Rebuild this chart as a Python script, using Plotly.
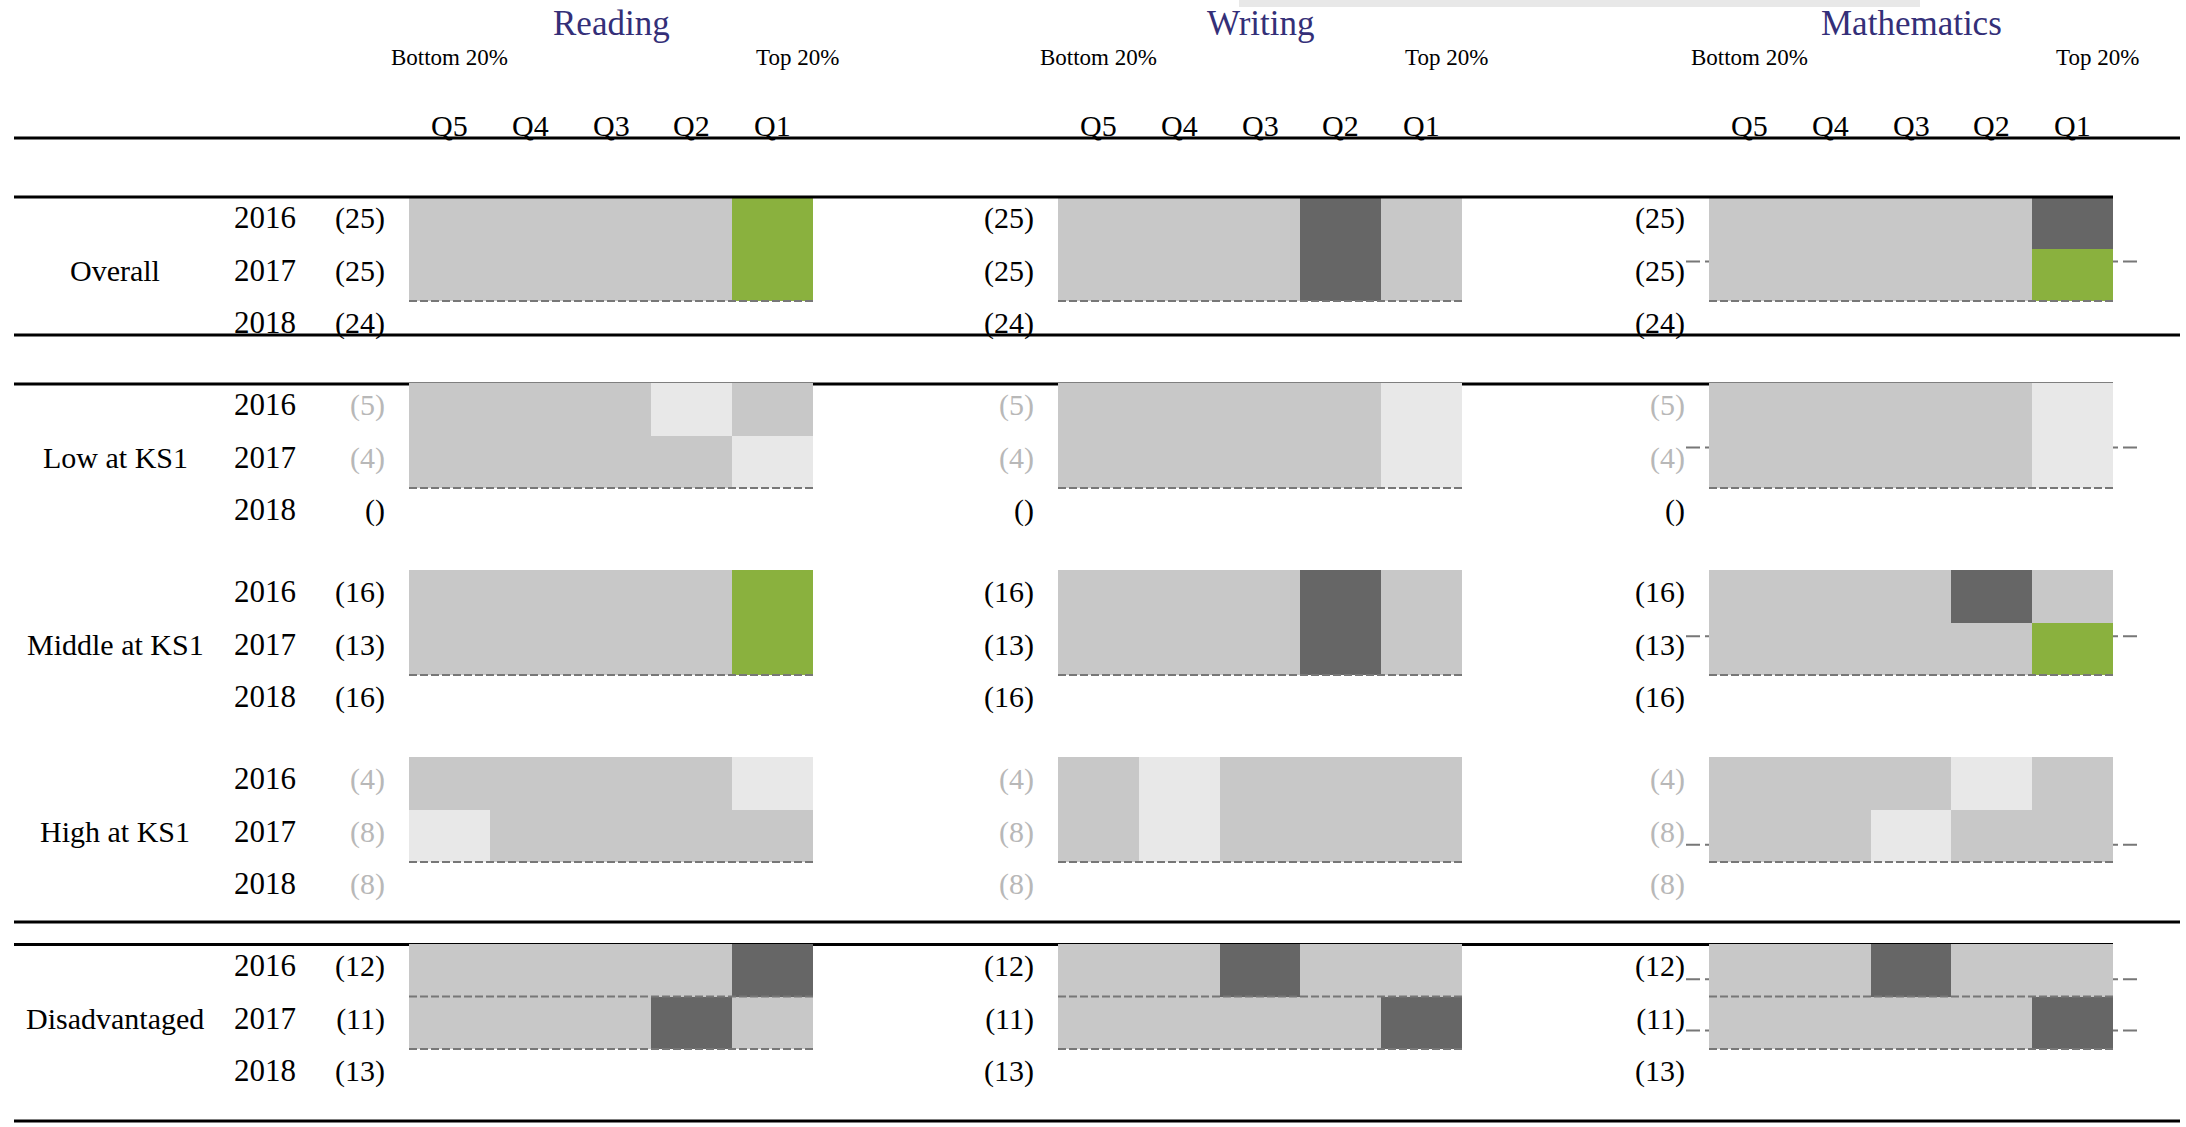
import plotly.graph_objects as go

# ---------------- data ----------------
subjects = ["Reading", "Writing", "Mathematics"]
quintiles = ["Q5", "Q4", "Q3", "Q2", "Q1"]
years = ["2016", "2017", "2018"]
groups = ["Overall", "Low at KS1", "Middle at KS1", "High at KS1", "Disadvantaged"]

# cell categories: 0 = no significant difference, 1 = small sample, 2 = below, 3 = above, None = no data
G, L, D, A, N = 0, 1, 2, 3, None

overall_cells = [
    [[G, G, G, G, A], [G, G, G, G, A], [N, N, N, N, N]],   # Reading
    [[G, G, G, D, G], [G, G, G, D, G], [N, N, N, N, N]],   # Writing
    [[G, G, G, G, D], [G, G, G, G, A], [N, N, N, N, N]],   # Mathematics
]
low_cells = [
    [[G, G, G, L, G], [G, G, G, G, L], [N, N, N, N, N]],
    [[G, G, G, G, L], [G, G, G, G, L], [N, N, N, N, N]],
    [[G, G, G, G, L], [G, G, G, G, L], [N, N, N, N, N]],
]
middle_cells = [
    [[G, G, G, G, A], [G, G, G, G, A], [N, N, N, N, N]],
    [[G, G, G, D, G], [G, G, G, D, G], [N, N, N, N, N]],
    [[G, G, G, D, G], [G, G, G, G, A], [N, N, N, N, N]],
]
high_cells = [
    [[G, G, G, G, L], [L, G, G, G, G], [N, N, N, N, N]],
    [[G, L, G, G, G], [G, L, G, G, G], [N, N, N, N, N]],
    [[G, G, G, L, G], [G, G, L, G, G], [N, N, N, N, N]],
]
disadv_cells = [
    [[G, G, G, G, D], [G, G, G, D, G], [N, N, N, N, N]],
    [[G, G, D, G, G], [G, G, G, G, D], [N, N, N, N, N]],
    [[G, G, D, G, G], [G, G, G, G, D], [N, N, N, N, N]],
]
group_cells = [overall_cells, low_cells, middle_cells, high_cells, disadv_cells]

overall_n = ["(25)", "(25)", "(24)"]
low_n = ["(5)", "(4)", "()"]
middle_n = ["(16)", "(13)", "(16)"]
high_n = ["(4)", "(8)", "(8)"]
disadv_n = ["(12)", "(11)", "(13)"]
group_n = [overall_n, low_n, middle_n, high_n, disadv_n]

overall_small = [False, False, False]
low_small = [True, True, False]
middle_small = [False, False, False]
high_small = [True, True, True]
disadv_small = [False, False, False]
group_small = [overall_small, low_small, middle_small, high_small, disadv_small]

# dashed separators between year rows (in row units)
overall_rules = [1.5]
low_rules = [1.5]
middle_rules = [1.5]
high_rules = [1.5]
disadv_rules = [0.5, 1.5]
group_rules = [overall_rules, low_rules, middle_rules, high_rules, disadv_rules]

# mathematics reference marks (in row units)
overall_math_ref = [0.75]
low_math_ref = [0.73]
middle_math_ref = [0.76]
high_math_ref = [1.17]
disadv_math_ref = [0.17, 1.15]
group_math_ref = [overall_math_ref, low_math_ref, middle_math_ref, high_math_ref, disadv_math_ref]

# ---------------- layout geometry (pixels) ----------------
W, H = 2186, 1127
FONT = "Liberation Serif"
heat_left = [409, 1058, 1709]
heat_w = 404
col_w = heat_w / 5
pad_l, pad_r = 23, 25
group_top = [196, 383, 570, 757, 944]
row_h = 52.5

GREY = "#c8c8c8"
LIGHT = "#e8e8e8"
DARK = "#666666"
GREEN = "#8ab13e"
colorscale = [[0, GREY], [0.25, GREY], [0.25, LIGHT], [0.5, LIGHT],
              [0.5, DARK], [0.75, DARK], [0.75, GREEN], [1, GREEN]]
TITLE_C = "#342f78"
SMALL_C = "#b8b8b8"

xr = [-0.5 - pad_l / col_w, 4.5 + pad_r / col_w]

fig = go.Figure()
layout_axes = {}
shapes = []
annotations = []


def ax_names(idx):
    s = "" if idx == 1 else str(idx)
    return "x" + s, "y" + s, "xaxis" + s, "yaxis" + s


for g in range(5):
    top = group_top[g]
    for s in range(3):
        idx = g * 3 + s + 1
        xn, yn, xk, yk = ax_names(idx)
        Lx = heat_left[s]
        layout_axes[xk] = dict(
            domain=[(Lx - pad_l) / W, (Lx + heat_w + pad_r) / W],
            range=xr, anchor=yn, showgrid=False, zeroline=False,
            showticklabels=False, showline=False, ticks="", fixedrange=True)
        ticktext = []
        for t, small in zip(group_n[g], group_small[g]):
            ticktext.append(f'<span style="color:{SMALL_C}">{t}</span>' if small else t)
        layout_axes[yk] = dict(
            domain=[1 - (top + 3 * row_h) / H, 1 - top / H],
            range=[2.5, -0.5], anchor=xn, showgrid=False, zeroline=False,
            showline=False, ticks="", fixedrange=True,
            tickmode="array", tickvals=[i - 0.085 for i in range(3)], ticktext=ticktext,
            tickfont=dict(family=FONT, size=30, color="black"))

        fig.add_trace(go.Heatmap(
            z=group_cells[g][s], x=list(range(5)), y=list(range(3)),
            colorscale=colorscale, zmin=0, zmax=3, showscale=False,
            hoverinfo="skip", xaxis=xn, yaxis=yn))

        # dashed row separators (on top of cells)
        for r in group_rules[g]:
            shapes.append(dict(type="line", xref=xn, yref=yn, x0=-0.5, x1=4.5, y0=r, y1=r,
                               layer="above", line=dict(color="#777777", width=2, dash="8px,3px")))
        # mathematics reference marks (behind cells)
        if s == 2:
            for r in group_math_ref[g]:
                shapes.append(dict(type="line", xref=xn, yref=yn, x0=xr[0], x1=xr[1], y0=r, y1=r,
                                   layer="below", line=dict(color="#777777", width=2, dash="14px,5px")))

    # year labels and group label next to Reading block
    _, yn_r, _, _ = ax_names(g * 3 + 1)
    for i, yv in enumerate(years):
        annotations.append(dict(text=yv, xref="paper", yref=yn_r, x=265 / W, y=i - 0.085,
                                xanchor="center", yanchor="middle", showarrow=False,
                                font=dict(family=FONT, size=31, color="black")))
    annotations.append(dict(text=groups[g], xref="paper", yref=yn_r, x=115 / W, y=1 - 0.085,
                            xanchor="center", yanchor="middle", showarrow=False,
                            font=dict(family=FONT, size=30, color="black")))

# header texts
for s in range(3):
    xn, _, _, _ = ax_names(s + 1)
    annotations.append(dict(text=subjects[s], xref=xn, yref="paper", x=2, y=1 - 23 / H,
                            xanchor="center", yanchor="middle", showarrow=False,
                            font=dict(family=FONT, size=35, color=TITLE_C)))
    annotations.append(dict(text="Bottom 20%", xref=xn, yref="paper", x=0, y=1 - 58 / H,
                            xanchor="center", yanchor="middle", showarrow=False,
                            font=dict(family=FONT, size=23, color="black")))
    annotations.append(dict(text="Top 20%", xref=xn, yref="paper", x=4 + 25 / col_w, y=1 - 58 / H,
                            xanchor="center", yanchor="middle", showarrow=False,
                            font=dict(family=FONT, size=23, color="black")))
    for i, q in enumerate(quintiles):
        annotations.append(dict(text=q, xref=xn, yref="paper", x=i, y=1 - 126 / H,
                                xanchor="center", yanchor="middle", showarrow=False,
                                font=dict(family=FONT, size=30, color="black")))

# table rules (paper)
def hline(ypx, x0px, x1px, layer):
    shapes.append(dict(type="line", xref="paper", yref="paper",
                       x0=x0px / W, x1=x1px / W, y0=1 - ypx / H, y1=1 - ypx / H,
                       layer=layer, line=dict(color="black", width=3)))

right_end = heat_left[2] + heat_w
hline(138, 14, 2180, "above")
hline(197, 14, right_end, "above")
hline(335, 14, 2180, "above")
hline(384, 14, right_end, "below")
hline(922, 14, 2180, "above")
hline(944.5, 14, right_end, "below")
hline(1121, 14, 2180, "above")

# light bar at the very top
shapes.append(dict(type="rect", xref="paper", yref="paper", x0=1239 / W, x1=1920 / W,
                   y0=1 - 7 / H, y1=1, layer="below", fillcolor=LIGHT, line=dict(width=0)))

fig.update_layout(
    width=W, height=H, margin=dict(l=0, r=0, t=0, b=0, pad=0),
    paper_bgcolor="white", plot_bgcolor="rgba(0,0,0,0)",
    showlegend=False, shapes=shapes, annotations=annotations,
    font=dict(family=FONT, color="black"),
    **layout_axes)

fig.write_html("out.html", config={"displayModeBar": False},
               post_script="document.body.style.margin='0px';document.body.style.overflow='hidden';")
